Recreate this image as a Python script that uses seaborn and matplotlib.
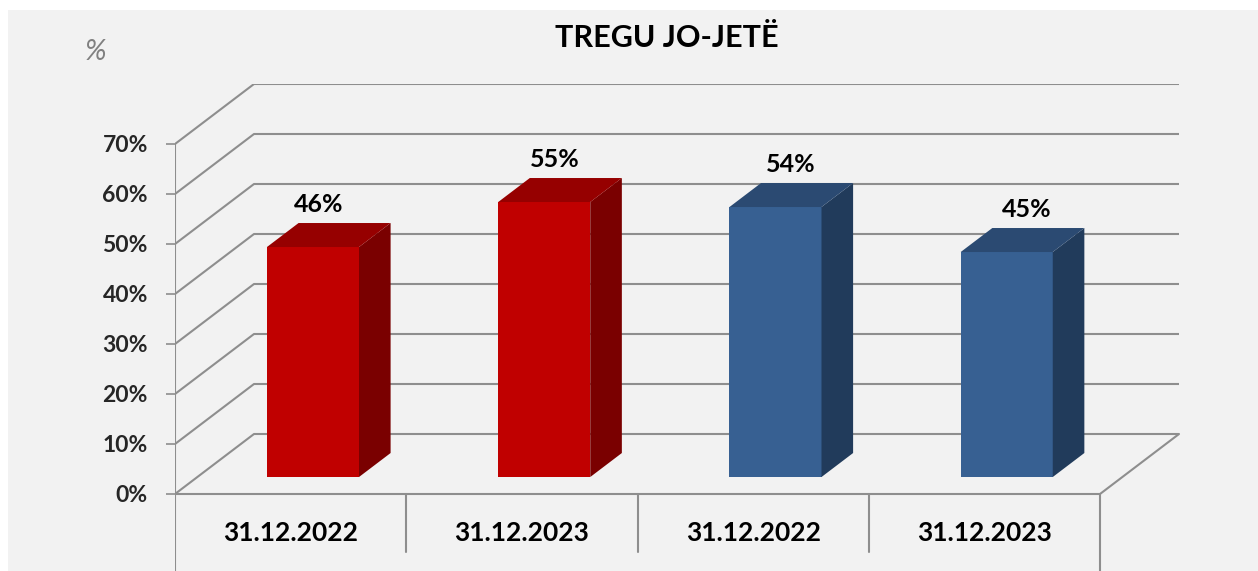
import matplotlib
matplotlib.use("Agg")
import matplotlib.pyplot as plt
from matplotlib.patches import Polygon, Rectangle
import seaborn as sns
import pandas as pd

# data
data_labels = ["31.12.2022", "31.12.2023", "31.12.2022", "31.12.2023"]
grupi = ["A", "A", "B", "B"]
vlera = [46, 55, 54, 45]
y_ticks = [0, 10, 20, 30, 40, 50, 60, 70]
titulli = "TREGU JO-JETË"

# colours
front_col = {"A": "#c00000", "B": "#376092"}
top_col = {"A": "#960000", "B": "#2b4a72"}
side_col = {"A": "#7a0000", "B": "#213b5b"}
grid_col = "#8e8e8e"

sns.set_theme(style="white")
plt.rcParams["font.family"] = ["Lato", "DejaVu Sans"]

# pseudo-3d geometry (data units)
DX = 79 / 231.25   # depth offset in x (category units)
DY = 12.0          # depth offset in y (percent units)
F0 = 0.283         # where bars start in depth
FD = 0.40          # bar depth as fraction
BW = 0.398         # bar width

fig = plt.figure(figsize=(12.58, 5.71), dpi=100, facecolor="white")
fig.patches.append(Rectangle((8 / 1258, 0), 1, 1 - 10 / 571, transform=fig.transFigure,
                             facecolor="#f2f2f2", edgecolor="none", zorder=-10))

ax = fig.add_axes([175 / 1258, 0, 1006 / 1258, (571 - 84) / 571])
ax.set_facecolor("none")

df = pd.DataFrame({"slot": range(len(vlera)), "vlera": vlera, "grupi": grupi})
sns.barplot(data=df, x="slot", y="vlera", hue="grupi", palette=front_col, dodge=False,
            width=BW, legend=False, ax=ax, zorder=3, linewidth=0, saturation=1)

# move front faces into the depth of the chart
yb = F0 * DY
for p in ax.patches:
    p.set_x(p.get_x() + F0 * DX)
    p.set_y(yb)

# side and top faces
ddx, ddy = FD * DX, FD * DY
for i, (v, g) in enumerate(zip(vlera, grupi)):
    x0 = i - BW / 2 + F0 * DX
    x1 = x0 + BW
    yt = yb + v
    ax.add_patch(Polygon([(x1, yb), (x1 + ddx, yb + ddy), (x1 + ddx, yt + ddy), (x1, yt)],
                         closed=True, facecolor=side_col[g], edgecolor="none", zorder=3))
    ax.add_patch(Polygon([(x0, yt), (x1, yt), (x1 + ddx, yt + ddy), (x0 + ddx, yt + ddy)],
                         closed=True, facecolor=top_col[g], edgecolor="none", zorder=3))
    # labels drift slightly right with perspective
    ax.text((x0 + x1) / 2 + 0.026 + 0.02 * i, yt + ddy + 1.4, f"{v}%", ha="center",
            va="bottom", fontsize=18, fontweight="bold", color="black", zorder=4)

# walls: gridlines with perspective
lw = 1.5
x_left, x_right = -0.5, len(vlera) - 0.5
for t in y_ticks:
    ax.plot([x_left, x_left + DX, x_right + DX], [t, t + DY, t + DY],
            color=grid_col, lw=lw, zorder=1, solid_capstyle="butt")
# floor
ax.plot([x_left, x_right, x_right + DX], [0, 0, DY], color=grid_col, lw=lw, zorder=1)

ylo, yhi = (494 - 571) / 5, (494 - 84) / 5
# category dividers
for k in range(len(vlera) + 1):
    xk = x_left + k
    bottom = ylo if k in (0, len(vlera)) else (494 - 552) / 5
    ax.plot([xk, xk], [0, bottom], color=grid_col, lw=lw, zorder=1)
ax.plot([x_left, x_left], [0, 70], color=grid_col, lw=lw, zorder=1)

for i, lab in enumerate(data_labels):
    ax.text(i, (494 - 533) / 5, lab, ha="center", va="center", fontsize=19,
            fontweight="bold", color="black")

ax.set_xlim(x_left, x_left + 1006 / 231.25)
ax.set_ylim(ylo, yhi)
ax.set_yticks(y_ticks)
ax.set_yticklabels([f"{t}%" for t in y_ticks], fontsize=16.5, fontweight="bold")
ax.tick_params(axis="y", length=6.5, width=1.2, color=grid_col, pad=13, left=True)
ax.set_xticks([])
ax.set_xlabel("")
ax.set_ylabel("")
for s in ax.spines.values():
    s.set_visible(False)

fig.text(667 / 1258, 1 - 38 / 571, titulli, ha="center", va="center", fontsize=22,
         fontweight="bold", color="black")
fig.text(95 / 1258, 1 - 52 / 571, "%", ha="center", va="center", fontsize=21,
         style="italic", color="#808080")

fig.savefig("out.png", dpi=100, facecolor=fig.get_facecolor())
